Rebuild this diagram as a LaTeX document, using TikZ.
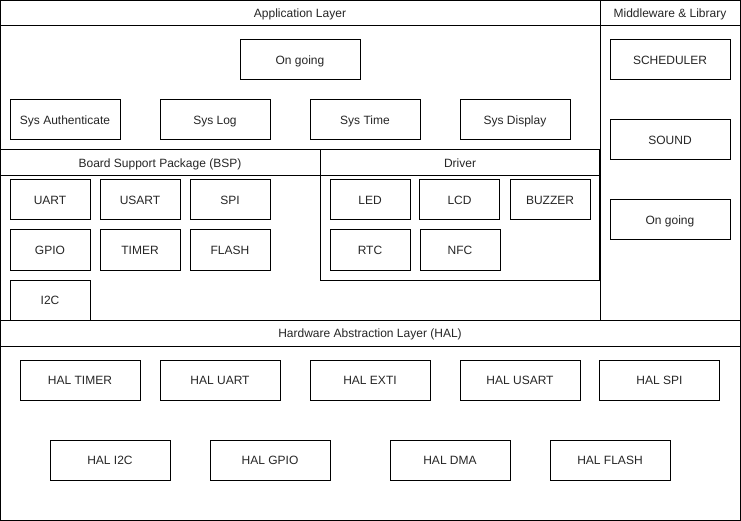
\documentclass[tikz,border=0pt]{standalone}
\usepackage{fontspec}
\setmainfont{Liberation Sans}
\begin{document}
\begin{tikzpicture}[x=1pt,y=-1pt,
  every node/.style={font=\fontsize{12}{14}\selectfont, text=black!85, text height=9.6pt, text depth=1.5pt},
  frame/.style={draw=black, line width=1pt},
  box/.style={draw=black, line width=1pt, rectangle, inner sep=0pt, minimum height=40pt},
  bw80/.style={box, minimum width=80pt},
  bw110/.style={box, minimum width=110pt},
  bw120/.style={box, minimum width=120pt},
  hdr/.style={inner sep=0pt}
]
\useasboundingbox (0,0) rectangle (741,521);
\fill[white] (0,0) rectangle (741,521);
% frames
\draw[frame] (0.5,0.5) rectangle (740,520);
\draw[frame] (0.5,26) -- (740,26);
\draw[frame] (600,0.5) -- (600,320);
\draw[frame] (0.5,320) -- (740,320);
\draw[frame] (0.5,346) -- (740,346);
% BSP and Driver
\draw[frame] (0.5,150) -- (320,150);
\draw[frame] (0.5,176) -- (320,176);
\draw[frame] (320,150) rectangle (599.5,280);
\draw[frame] (320,176) -- (599.5,176);
% headers
\node[hdr] (applayer) at (300,13) {Application Layer};
\node[hdr] (mwlib) at (670,13) {Middleware \& Library};
\node[hdr] (bsp) at (160,163) {Board Support Package (BSP)};
\node[hdr] (driver) at (460,163) {Driver};
\node[hdr] (hal) at (370,333) {Hardware Abstraction Layer (HAL)};
% application
\node[bw120] (ongoing) at (300,60) {On going};
\node[bw110] (sysauth) at (65,120) {Sys Authenticate};
\node[bw110] (syslog) at (215,120) {Sys Log};
\node[bw110] (systime) at (365,120) {Sys Time};
\node[bw110] (sysdisp) at (515,120) {Sys Display};
% middleware
\node[bw120] (sched) at (670,60) {SCHEDULER};
\node[bw120] (sound) at (670,140) {SOUND};
\node[bw120] (ongoing2) at (670,220) {On going};
% BSP
\node[bw80] (uart) at (50,200) {UART};
\node[bw80] (usart) at (140,200) {USART};
\node[bw80] (spi) at (230,200) {SPI};
\node[bw80] (gpio) at (50,250) {GPIO};
\node[bw80] (timer) at (140,250) {TIMER};
\node[bw80] (flash) at (230,250) {FLASH};
\node[bw80] (i2c) at (50,300) {I2C};
% Driver
\node[bw80] (led) at (370,200) {LED};
\node[bw80] (lcd) at (459.5,200) {LCD};
\node[bw80] (buzzer) at (550,200) {BUZZER};
\node[bw80] (rtc) at (370,250) {RTC};
\node[bw80] (nfc) at (460,250) {NFC};
% HAL
\node[bw120] (haltimer) at (80,380) {HAL TIMER};
\node[bw120] (haluart) at (220,380) {HAL UART};
\node[bw120] (halexti) at (370,380) {HAL EXTI};
\node[bw120] (halusart) at (520,380) {HAL USART};
\node[bw120] (halspi) at (659.5,380) {HAL SPI};
\node[bw120] (hali2c) at (110,460) {HAL I2C};
\node[bw120] (halgpio) at (270,460) {HAL GPIO};
\node[bw120] (haldma) at (450,460) {HAL DMA};
\node[bw120] (halflash) at (610,460) {HAL FLASH};
\end{tikzpicture}
\end{document}
